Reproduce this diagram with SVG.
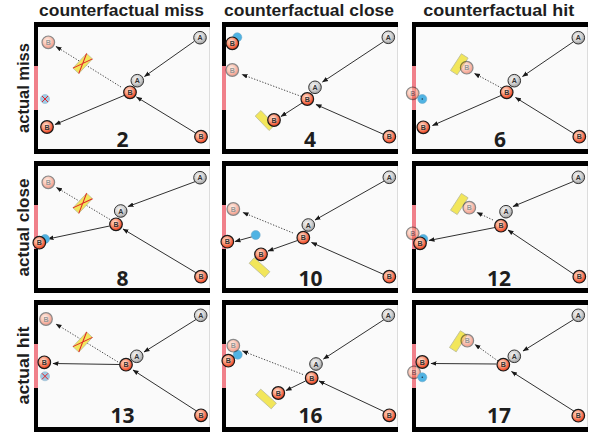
<svg xmlns="http://www.w3.org/2000/svg" xmlns:xlink="http://www.w3.org/1999/xlink" width="590" height="433" viewBox="0 0 590 433">
<defs>
<radialGradient id="gA" cx="0.42" cy="0.38" r="0.65"><stop offset="0" stop-color="#f6f6f6"/><stop offset="0.55" stop-color="#d2d2d2"/><stop offset="1" stop-color="#9a9a9a"/></radialGradient>
<radialGradient id="gB" cx="0.42" cy="0.38" r="0.65"><stop offset="0" stop-color="#ffe6da"/><stop offset="0.4" stop-color="#fbaa8e"/><stop offset="0.8" stop-color="#f05634"/><stop offset="1" stop-color="#d8401f"/></radialGradient>
<marker id="ah" viewBox="0 0 6 6" refX="5.5" refY="3" markerWidth="6" markerHeight="6" orient="auto" markerUnits="userSpaceOnUse"><path d="M0,0.7 L6,3 L0,5.3 z" fill="#1a1a1a"/></marker>
<g id="frame">
<rect x="34" y="22" width="176" height="132" fill="#fafafa"/>
<line x1="209.5" y1="27" x2="209.5" y2="149" stroke="#dcdcdc" stroke-width="1"/>
<rect x="34" y="22" width="176" height="5" fill="#000"/>
<rect x="34" y="149" width="176" height="5" fill="#000"/>
<rect x="34" y="22" width="4" height="132" fill="#000"/>
<rect x="34" y="66" width="4" height="44" fill="#f0808a"/>
</g>
</defs>
<style>
.hd{font-family:"Liberation Sans",Arial,sans-serif;font-weight:700;font-size:17px;fill:#1e1e1e;text-anchor:middle}
.num{font-family:"Open Sans","Liberation Sans",sans-serif;font-weight:700;font-size:21px;fill:#1e1e1e;text-anchor:middle}
.ln{stroke:#1a1a1a;stroke-width:0.9;fill:none;marker-end:url(#ah)}
.dt{stroke:#333;stroke-width:0.9;stroke-dasharray:1.3 1.6;fill:none;marker-end:url(#ah)}
.bA circle{fill:url(#gA);stroke:#333;stroke-width:1}
.bB circle{fill:url(#gB);stroke:#1a1a1a;stroke-width:1.2}
.fB{opacity:0.5}
.bA text,.bB text{font-family:"Liberation Sans",Arial,sans-serif;font-size:7px;font-weight:700;text-anchor:middle;fill:#333}
.bl{fill:#4fb3e3;stroke:#6fa9c9;stroke-width:0.6}
.blf{fill:#9fcbe6;stroke:#9ab8cc;stroke-width:0.6}
.yr{fill:#f2e65a;stroke:#bdbd9a;stroke-width:0.8}
.rx{stroke:#e0242a;stroke-width:1;fill:none}
</style>
<rect width="590" height="433" fill="#fff"/>
<g id="headers">
<text class="hd" x="121.5" y="16" textLength="165" lengthAdjust="spacingAndGlyphs">counterfactual miss</text>
<text class="hd" x="309" y="16" textLength="170" lengthAdjust="spacingAndGlyphs">counterfactual close</text>
<text class="hd" x="498.7" y="16" textLength="151" lengthAdjust="spacingAndGlyphs">counterfactual hit</text>
<text class="hd" transform="translate(28.5,88) rotate(-90)" textLength="90" lengthAdjust="spacingAndGlyphs">actual miss</text>
<text class="hd" transform="translate(28.5,227.5) rotate(-90)" textLength="98" lengthAdjust="spacingAndGlyphs">actual close</text>
<text class="hd" transform="translate(28.5,365.5) rotate(-90)" textLength="78" lengthAdjust="spacingAndGlyphs">actual hit</text>
</g>

<g id="panel-2">
<use xlink:href="#frame" href="#frame"/>
<text class="num" x="122.5" y="146.5">2</text>
<g id="p2-connectors">
<line class="ln" x1="194" y1="41.5" x2="144.5" y2="76.5"/>
<line class="ln" x1="195.5" y1="133" x2="136.5" y2="97"/>
<line class="ln" x1="124" y1="95.5" x2="55" y2="124.5"/>
<line class="dt" x1="121" y1="87" x2="56" y2="46.5"/>
</g>
<g id="p2-block" transform="translate(82.7,63.5) rotate(-47)"><rect class="yr" x="-10" y="-4" width="20" height="8"/><path class="rx" d="M-10,-4 L10,4 M-10,4 L10,-4"/></g>
<g id="p2-blue" transform="translate(45,99)"><circle class="blf" r="4.5"/><path class="rx" d="M-3,-3 L3,3 M-3,3 L3,-3"/></g>
<g id="p2-Bcf" class="bB fB" transform="translate(48.3,42.3)"><circle r="6.3"/><text y="2.5">B</text></g>
<g id="p2-A0" class="bA" transform="translate(200,37.7)"><circle r="6.3"/><text y="2.5">A</text></g>
<g id="p2-A1" class="bA" transform="translate(137.3,80.7)"><circle r="6.3"/><text y="2.5">A</text></g>
<g id="p2-B0" class="bB" transform="translate(201,136.7)"><circle r="6.3"/><text y="2.5">B</text></g>
<g id="p2-B1" class="bB" transform="translate(130,92.3)"><circle r="6.3"/><text y="2.5">B</text></g>
<g id="p2-B2" class="bB" transform="translate(47,127)"><circle r="6.3"/><text y="2.5">B</text></g>
</g>

<g id="panel-4">
<use xlink:href="#frame" href="#frame" x="188"/>
<text class="num" x="310" y="146.5">4</text>
<g id="p4-connectors">
<line class="ln" x1="384.5" y1="41" x2="322.5" y2="82"/>
<line class="ln" x1="384" y1="134.5" x2="316" y2="104.5"/>
<line class="ln" x1="302" y1="103" x2="281" y2="116.5"/>
<line class="dt" x1="301.5" y1="96.5" x2="242" y2="74.5"/>
</g>
<g id="p4-block" transform="translate(265,120.5) rotate(46)"><rect class="yr" x="-10" y="-4" width="20" height="8"/></g>
<circle id="p4-blue" class="bl" cx="237.3" cy="37.3" r="4.5"/>
<g id="p4-Bw" class="bB" transform="translate(232.3,43.3)"><circle r="6.3"/><text y="2.5">B</text></g>
<g id="p4-Bcf" class="bB fB" transform="translate(232.3,70)"><circle r="6.3"/><text y="2.5">B</text></g>
<g id="p4-A0" class="bA" transform="translate(388.3,37.3)"><circle r="6.3"/><text y="2.5">A</text></g>
<g id="p4-A1" class="bA" transform="translate(315,87.3)"><circle r="6.3"/><text y="2.5">A</text></g>
<g id="p4-B0" class="bB" transform="translate(389.3,136.7)"><circle r="6.3"/><text y="2.5">B</text></g>
<g id="p4-B1" class="bB" transform="translate(307.3,99)"><circle r="6.3"/><text y="2.5">B</text></g>
<g id="p4-B2" class="bB" transform="translate(274,120)"><circle r="6.3"/><text y="2.5">B</text></g>
</g>

<g id="panel-6">
<use xlink:href="#frame" href="#frame" x="378"/>
<text class="num" x="500" y="146.5">6</text>
<g id="p6-connectors">
<line class="ln" x1="574.5" y1="41" x2="522.5" y2="76.5"/>
<line class="ln" x1="574.5" y1="134" x2="515.5" y2="97.5"/>
<line class="ln" x1="501" y1="95.5" x2="432.5" y2="125.5"/>
<line class="dt" x1="501.5" y1="88" x2="474.5" y2="73.5"/>
</g>
<g id="p6-block" transform="translate(459.3,64.3) rotate(-57)"><rect class="yr" x="-10" y="-4" width="20" height="8"/></g>
<g id="p6-Bcf" class="bB fB" transform="translate(466.7,67.7)"><circle r="6.3"/><text y="2.5">B</text></g>
<g id="p6-Bw" class="bB fB" transform="translate(412.7,93.3)"><circle r="6.3"/><text y="2.5">B</text></g>
<g id="p6-blue" transform="translate(422.3,99)"><circle class="bl" r="4.5"/><circle r="0.8" fill="#234"/></g>
<g id="p6-A0" class="bA" transform="translate(578.3,37.7)"><circle r="6.3"/><text y="2.5">A</text></g>
<g id="p6-A1" class="bA" transform="translate(514.3,80.7)"><circle r="6.3"/><text y="2.5">A</text></g>
<g id="p6-B0" class="bB" transform="translate(579.3,136.7)"><circle r="6.3"/><text y="2.5">B</text></g>
<g id="p6-B1" class="bB" transform="translate(506.7,92.3)"><circle r="6.3"/><text y="2.5">B</text></g>
<g id="p6-B2" class="bB" transform="translate(423.3,127.3)"><circle r="6.3"/><text y="2.5">B</text></g>
</g>

<g id="panel-8">
<use xlink:href="#frame" href="#frame" y="139"/>
<text class="num" x="122.5" y="286">8</text>
<g id="p8-connectors">
<line class="ln" x1="195.5" y1="181.5" x2="128" y2="206.5"/>
<line class="ln" x1="196.5" y1="273" x2="123" y2="229"/>
<line class="ln" x1="109.5" y1="226" x2="48" y2="239"/>
<line class="dt" x1="110" y1="219.5" x2="56.5" y2="187.5"/>
</g>
<g id="p8-block" transform="translate(82.7,203.3) rotate(-47)"><rect class="yr" x="-10" y="-4" width="20" height="8"/><path class="rx" d="M-10,-4 L10,4 M-10,4 L10,-4"/></g>
<circle id="p8-blue" class="bl" cx="45" cy="239" r="4.5"/>
<g id="p8-Bcf" class="bB fB" transform="translate(48.3,182.3)"><circle r="6.3"/><text y="2.5">B</text></g>
<g id="p8-A0" class="bA" transform="translate(200,177.7)"><circle r="6.3"/><text y="2.5">A</text></g>
<g id="p8-A1" class="bA" transform="translate(120.7,211)"><circle r="6.3"/><text y="2.5">A</text></g>
<g id="p8-B0" class="bB" transform="translate(201,276.7)"><circle r="6.3"/><text y="2.5">B</text></g>
<g id="p8-B1" class="bB" transform="translate(116,224.3)"><circle r="6.3"/><text y="2.5">B</text></g>
<g id="p8-B2" class="bB" transform="translate(39.3,242.7)"><circle r="6.3"/><text y="2.5">B</text></g>
</g>

<g id="panel-10">
<use xlink:href="#frame" href="#frame" x="188" y="139"/>
<text class="num" x="310.5" y="286">10</text>
<g id="p10-connectors">
<line class="ln" x1="385" y1="180.5" x2="315" y2="220"/>
<line class="ln" x1="385" y1="275" x2="311.5" y2="242.5"/>
<line class="ln" x1="297.5" y1="240.5" x2="268" y2="251"/>
<line class="dt" x1="293" y1="233" x2="243" y2="212.5"/>
<line class="ln" x1="253" y1="236.5" x2="235" y2="241.5"/>
</g>
<g id="p10-block" transform="translate(259.5,267.5) rotate(42)"><rect class="yr" x="-10.5" y="-3.8" width="21" height="7.6"/></g>
<circle id="p10-blue" class="bl" cx="255.7" cy="235" r="4.5"/>
<g id="p10-Bcf" class="bB fB" transform="translate(233.3,209)"><circle r="6.3"/><text y="2.5">B</text></g>
<g id="p10-Bw" class="bB" transform="translate(227.3,241.7)"><circle r="6.3"/><text y="2.5">B</text></g>
<g id="p10-A0" class="bA" transform="translate(389.3,177.3)"><circle r="6.3"/><text y="2.5">A</text></g>
<g id="p10-A1" class="bA" transform="translate(308.3,225)"><circle r="6.3"/><text y="2.5">A</text></g>
<g id="p10-B0" class="bB" transform="translate(389.3,276.7)"><circle r="6.3"/><text y="2.5">B</text></g>
<g id="p10-B1" class="bB" transform="translate(303.3,237.7)"><circle r="6.3"/><text y="2.5">B</text></g>
<g id="p10-B2" class="bB" transform="translate(261,254.3)"><circle r="6.3"/><text y="2.5">B</text></g>
</g>

<g id="panel-12">
<use xlink:href="#frame" href="#frame" x="378" y="139"/>
<text class="num" x="499" y="286">12</text>
<g id="p12-connectors">
<line class="ln" x1="574.5" y1="181" x2="513" y2="206.5"/>
<line class="ln" x1="575" y1="275" x2="508" y2="230"/>
<line class="ln" x1="495" y1="227.5" x2="429" y2="240.5"/>
<line class="dt" x1="493" y1="220" x2="477" y2="212.5"/>
</g>
<g id="p12-block" transform="translate(459.3,204) rotate(-57)"><rect class="yr" x="-10" y="-4" width="20" height="8"/></g>
<g id="p12-Bcf" class="bB fB" transform="translate(469.3,207.7)"><circle r="6.3"/><text y="2.5">B</text></g>
<g id="p12-Bw" class="bB fB" transform="translate(412.7,233.3)"><circle r="6.3"/><text y="2.5">B</text></g>
<circle id="p12-blue" class="bl" cx="423.3" cy="239" r="4.5"/>
<g id="p12-A0" class="bA" transform="translate(578.3,177.3)"><circle r="6.3"/><text y="2.5">A</text></g>
<g id="p12-A1" class="bA" transform="translate(506,211.7)"><circle r="6.3"/><text y="2.5">A</text></g>
<g id="p12-B0" class="bB" transform="translate(579.3,276.7)"><circle r="6.3"/><text y="2.5">B</text></g>
<g id="p12-B1" class="bB" transform="translate(501,225.7)"><circle r="6.3"/><text y="2.5">B</text></g>
<g id="p12-B2" class="bB" transform="translate(420,243.3)"><circle r="6.3"/><text y="2.5">B</text></g>
</g>

<g id="panel-13">
<use xlink:href="#frame" href="#frame" y="278"/>
<text class="num" x="122.5" y="423">13</text>
<g id="p13-connectors">
<line class="ln" x1="196" y1="319.5" x2="144" y2="352"/>
<line class="ln" x1="196.5" y1="411" x2="133" y2="370"/>
<line class="ln" x1="119.5" y1="364.5" x2="53" y2="363.5"/>
<line class="dt" x1="118" y1="362" x2="56" y2="324"/>
</g>
<g id="p13-block" transform="translate(82.7,342) rotate(-47)"><rect class="yr" x="-10" y="-4" width="20" height="8"/><path class="rx" d="M-10,-4 L10,4 M-10,4 L10,-4"/></g>
<g id="p13-blue" transform="translate(45,376.3)"><circle class="blf" r="4.5"/><path class="rx" d="M-3,-3 L3,3 M-3,3 L3,-3"/></g>
<g id="p13-Bcf" class="bB fB" transform="translate(46,319)"><circle r="6.3"/><text y="2.5">B</text></g>
<g id="p13-A0" class="bA" transform="translate(200.7,315.3)"><circle r="6.3"/><text y="2.5">A</text></g>
<g id="p13-A1" class="bA" transform="translate(136.7,356.3)"><circle r="6.3"/><text y="2.5">A</text></g>
<g id="p13-B0" class="bB" transform="translate(201,415.3)"><circle r="6.3"/><text y="2.5">B</text></g>
<g id="p13-B1" class="bB" transform="translate(126,364.7)"><circle r="6.3"/><text y="2.5">B</text></g>
<g id="p13-B2" class="bB" transform="translate(44.3,362.3)"><circle r="6.3"/><text y="2.5">B</text></g>
</g>

<g id="panel-16">
<use xlink:href="#frame" href="#frame" x="188" y="278"/>
<text class="num" x="310.5" y="423">16</text>
<g id="p16-connectors">
<line class="ln" x1="385" y1="319" x2="323.5" y2="359"/>
<line class="ln" x1="385" y1="412" x2="319" y2="381"/>
<line class="ln" x1="305.5" y1="381" x2="286" y2="390.5"/>
<line class="dt" x1="303" y1="374.5" x2="242.5" y2="351"/>
</g>
<g id="p16-block" transform="translate(266,399) rotate(42)"><rect class="yr" x="-10.5" y="-3.8" width="21" height="7.6"/></g>
<circle id="p16-blue" class="bl" cx="237.7" cy="354.7" r="4.5"/>
<g id="p16-Bcf" class="bB fB" transform="translate(233.3,345.7)"><circle r="6.3"/><text y="2.5">B</text></g>
<g id="p16-Bw" class="bB" transform="translate(228.3,360.7)"><circle r="6.3"/><text y="2.5">B</text></g>
<g id="p16-A0" class="bA" transform="translate(388.3,315.3)"><circle r="6.3"/><text y="2.5">A</text></g>
<g id="p16-A1" class="bA" transform="translate(316,364)"><circle r="6.3"/><text y="2.5">A</text></g>
<g id="p16-B0" class="bB" transform="translate(389.3,415.3)"><circle r="6.3"/><text y="2.5">B</text></g>
<g id="p16-B1" class="bB" transform="translate(311.7,378)"><circle r="6.3"/><text y="2.5">B</text></g>
<g id="p16-B2" class="bB" transform="translate(278.3,393)"><circle r="6.3"/><text y="2.5">B</text></g>
</g>

<g id="panel-17">
<use xlink:href="#frame" href="#frame" x="378" y="278"/>
<text class="num" x="499" y="423">17</text>
<g id="p17-connectors">
<line class="ln" x1="574.5" y1="319" x2="523" y2="351"/>
<line class="ln" x1="574.5" y1="411.5" x2="511.5" y2="371.5"/>
<line class="ln" x1="496.5" y1="364" x2="431" y2="363.5"/>
<line class="dt" x1="498" y1="361" x2="475" y2="344.5"/>
</g>
<g id="p17-block" transform="translate(458.3,341.3) rotate(-57)"><rect class="yr" x="-10" y="-4" width="20" height="8"/></g>
<g id="p17-Bcf" class="bB fB" transform="translate(467.3,340.7)"><circle r="6.3"/><text y="2.5">B</text></g>
<g id="p17-Bw" class="bB fB" transform="translate(414,372.3)"><circle r="6.3"/><text y="2.5">B</text></g>
<g id="p17-blue" transform="translate(422.3,377.3)"><circle class="bl" r="4.5"/><circle r="0.8" fill="#234"/></g>
<g id="p17-A0" class="bA" transform="translate(578.3,315.3)"><circle r="6.3"/><text y="2.5">A</text></g>
<g id="p17-A1" class="bA" transform="translate(514.3,356.3)"><circle r="6.3"/><text y="2.5">A</text></g>
<g id="p17-B0" class="bB" transform="translate(578.3,415.7)"><circle r="6.3"/><text y="2.5">B</text></g>
<g id="p17-B1" class="bB" transform="translate(503.3,364.7)"><circle r="6.3"/><text y="2.5">B</text></g>
<g id="p17-B2" class="bB" transform="translate(422.3,362)"><circle r="6.3"/><text y="2.5">B</text></g>
</g>
</svg>
